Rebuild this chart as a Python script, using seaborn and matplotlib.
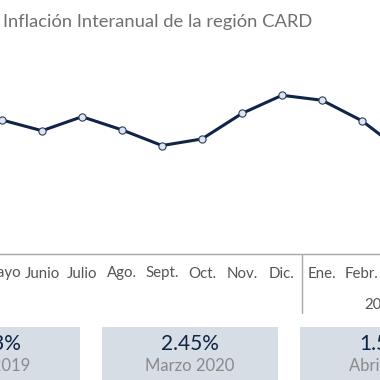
import matplotlib
matplotlib.use("Agg")
import matplotlib.pyplot as plt
import seaborn as sns
import pandas as pd
from matplotlib.patches import Rectangle

# ---- data ----
months = ["Mayo", "Junio", "Julio", "Ago.", "Sept.", "Oct.", "Nov.", "Dic.",
          "Ene.", "Febr.", "Marzo", "Abril"]
inflation = [2.83, 2.70, 2.87, 2.71, 2.52, 2.60, 2.91, 3.13,
             3.07, 2.82, 2.45, 1.53]
year_labels = ["2020"]
year_centers = [9.5]
box_values = ["3.13%", "2.45%", "1.53%"]
box_labels = ["Abril 2019", "Marzo 2020", "Abril 2020"]

title = "Inflación Interanual de la región CARD"

sns.set_theme(style="white")
plt.rcParams["font.family"] = ["Lato", "DejaVu Sans"]

W = H = 380
fig = plt.figure(figsize=(3.8, 3.8), dpi=100)
fig.patch.set_facecolor("white")

# axes placement in pixels (partially outside the visible crop)
left_px, right_px = -18, 462
top_px, bottom_px = 40, 254
ax = fig.add_axes([left_px / W, 1 - bottom_px / H,
                   (right_px - left_px) / W, (bottom_px - top_px) / H])

df = pd.DataFrame({"idx": range(len(months)), "month": months, "value": inflation})
navy = "#0f2447"
sns.lineplot(data=df, x="idx", y="value", ax=ax, color=navy, linewidth=2.2,
             marker="o", markersize=5.2, markerfacecolor="#dfe5f0",
             markeredgecolor="#2c3e5c", markeredgewidth=0.8, zorder=3)

# y scale: Dic at px 95.3 ; 0.01214 units per px
per_px = 0.01214
ref_val, ref_px = 3.13, 95.3
ymin = ref_val - (bottom_px - ref_px) * per_px
ymax = ref_val + (ref_px - top_px) * per_px
ax.set_ylim(ymin, ymax)
ax.set_xlim(-0.5, len(months) - 0.5)

ax.set_xticks(range(len(months)))
ax.set_xticklabels(months, fontsize=10.8, color="#555555")
ax.tick_params(axis="x", length=0, pad=9)
ax.set_yticks([])
ax.set_xlabel("")
ax.set_ylabel("")
for s in ["top", "left", "right"]:
    ax.spines[s].set_visible(False)
ax.spines["bottom"].set_color("#a8a8a8")
ax.spines["bottom"].set_linewidth(1.0)

# year separator and year label
ax.plot([7.5, 7.5], [0, -0.275], transform=ax.get_xaxis_transform(),
        color="#a8a8a8", lw=1.0, clip_on=False)
for lab, c in zip(year_labels, year_centers):
    ax.text(c, -0.238, lab, transform=ax.get_xaxis_transform(),
            ha="center", va="center", fontsize=10.8, color="#555555")

# title
fig.text(3 / W, 1 - 26.5 / H, title, ha="left", va="baseline",
         fontsize=13.2, color="#707070")

# summary boxes
box_w, box_top = 176, 327
box_lefts = [-96, 102, 300]
for x0, val, lab in zip(box_lefts, box_values, box_labels):
    fig.patches.append(Rectangle((x0 / W, 0), box_w / W, (H - box_top) / H,
                                 transform=fig.transFigure,
                                 facecolor="#d7dde5", edgecolor="none"))
    cx = (x0 + box_w / 2) / W
    fig.text(cx, 1 - 350 / H, val, ha="center", va="baseline",
             fontsize=15, color=navy)
    fig.text(cx, 1 - 371 / H, lab, ha="center", va="baseline",
             fontsize=12, color="#8a8a8a")

fig.savefig("out.png", dpi=100, facecolor="white")
